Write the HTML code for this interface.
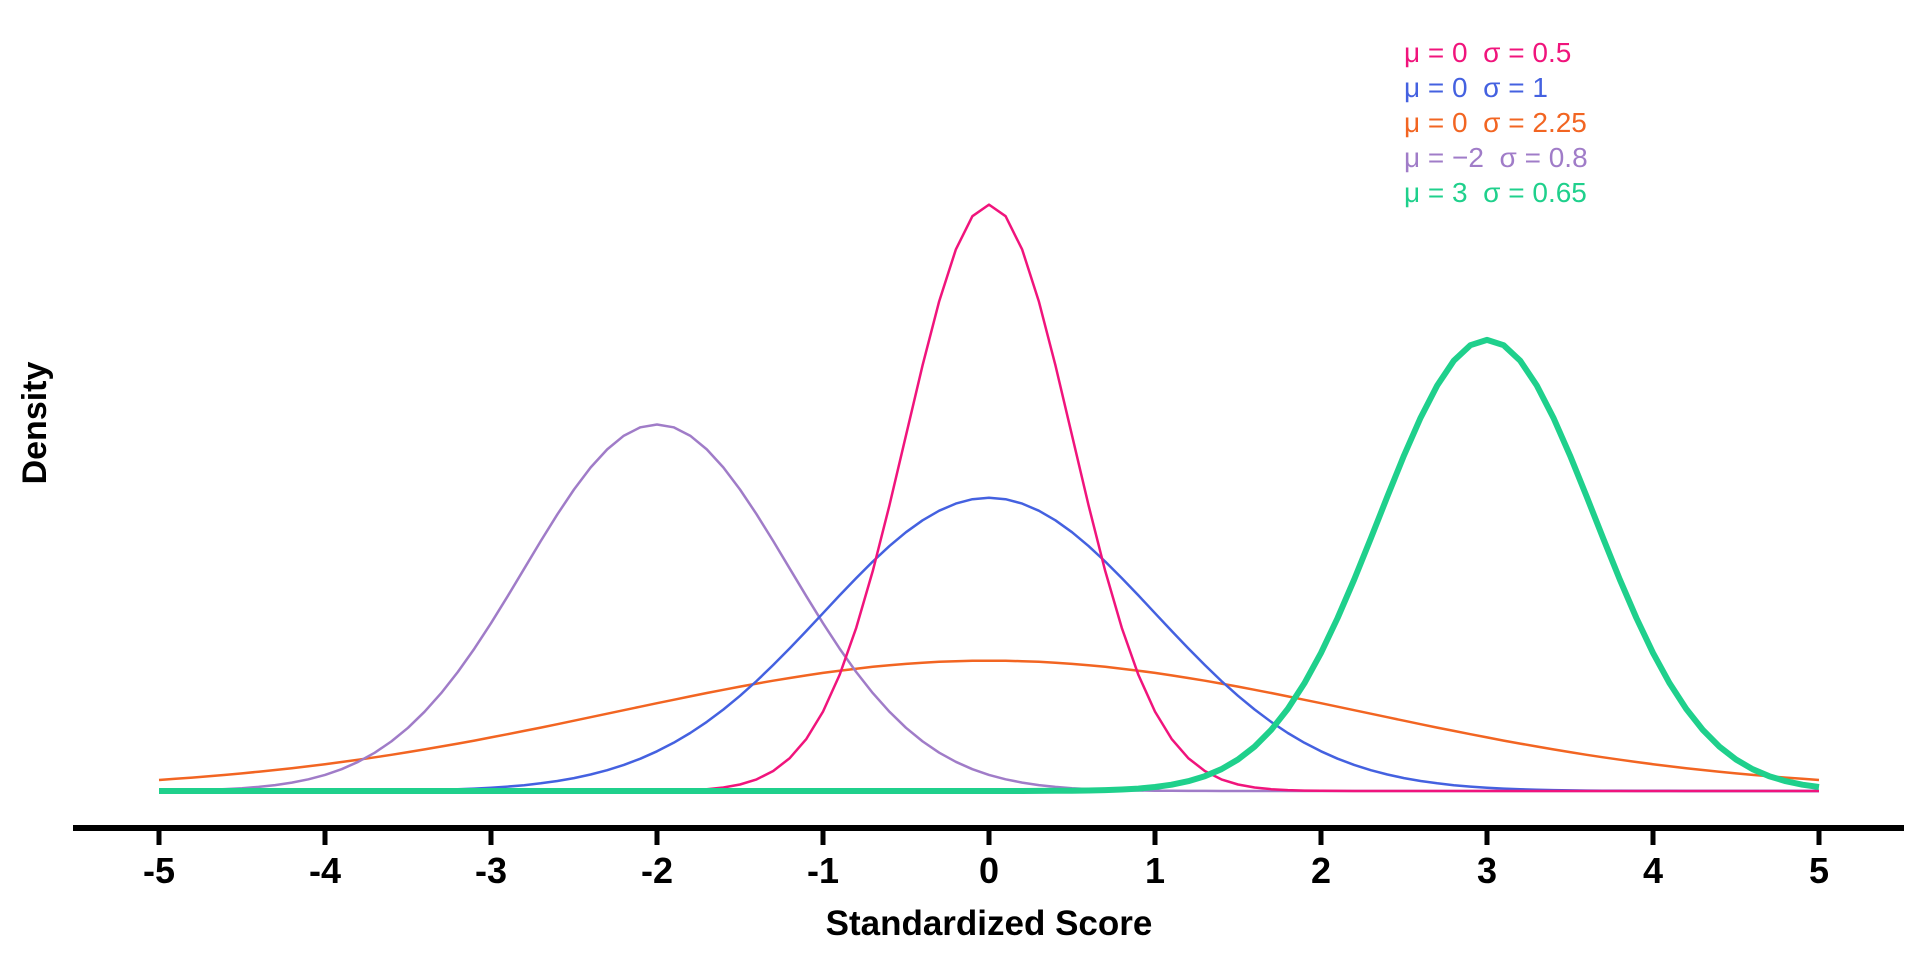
<!DOCTYPE html>
<html><head><meta charset="utf-8"><style>
html,body{margin:0;padding:0;background:#fff;width:1920px;height:960px;overflow:hidden}
svg{display:block}
text{white-space:pre}
</style></head><body>
<svg id="s" width="1920" height="960" xmlns="http://www.w3.org/2000/svg" font-family="Liberation Sans, Arial, sans-serif">
<g id="curves" fill="none" stroke-linejoin="round"></g>
<line x1="73" y1="828" x2="1904" y2="828" stroke="#000" stroke-width="6"/>
<g id="ticks" stroke="#000" stroke-width="5"></g>
<g id="labels" font-size="36" font-weight="bold" text-anchor="middle" fill="#000"></g>
<text x="989" y="935" font-size="35" font-weight="bold" text-anchor="middle">Standardized Score</text>
<text transform="translate(46,423) rotate(-90)" font-size="34" font-weight="bold" text-anchor="middle">Density</text>
<g font-size="28" xml:space="preserve">
<text x="1404" y="62" fill="#f0147c">μ = 0  σ = 0.5</text>
<text x="1404" y="97" fill="#4461e0">μ = 0  σ = 1</text>
<text x="1404" y="132" fill="#f26522">μ = 0  σ = 2.25</text>
<text x="1404" y="167" fill="#a07cc8">μ = −2  σ = 0.8</text>
<text x="1404" y="202" fill="#1fd08c">μ = 3  σ = 0.65</text>
</g>
</svg>
<script>
var NS="http://www.w3.org/2000/svg";
function X(v){return 159+166*(v+5);}
function Y(d){return 791-735*d;}
var series=[[0,2.25,"#f26522",2.5],[-2,0.8,"#a07cc8",2.5],[0,1,"#4461e0",2.5],[0,0.5,"#f0147c",2.5],[3,0.65,"#1fd08c",6]];
var g=document.getElementById("curves");
series.forEach(function(s){
 var pts=[];
 for(var i=0;i<=100;i++){var x=-5+i*0.1;var d=Math.exp(-0.5*Math.pow((x-s[0])/s[1],2))/(s[1]*Math.sqrt(2*Math.PI));pts.push(X(x).toFixed(1)+","+Y(d).toFixed(1));}
 var p=document.createElementNS(NS,"polyline");p.setAttribute("points",pts.join(" "));p.setAttribute("stroke",s[2]);p.setAttribute("stroke-width",s[3]);g.appendChild(p);
});
var t=document.getElementById("ticks"),l=document.getElementById("labels");
for(var v=-5;v<=5;v++){
 var ln=document.createElementNS(NS,"line");ln.setAttribute("x1",X(v));ln.setAttribute("x2",X(v));ln.setAttribute("y1",828);ln.setAttribute("y2",845);t.appendChild(ln);
 var tx=document.createElementNS(NS,"text");tx.setAttribute("x",X(v));tx.setAttribute("y",883);tx.textContent=String(v);l.appendChild(tx);
}
</script>
</body></html>
